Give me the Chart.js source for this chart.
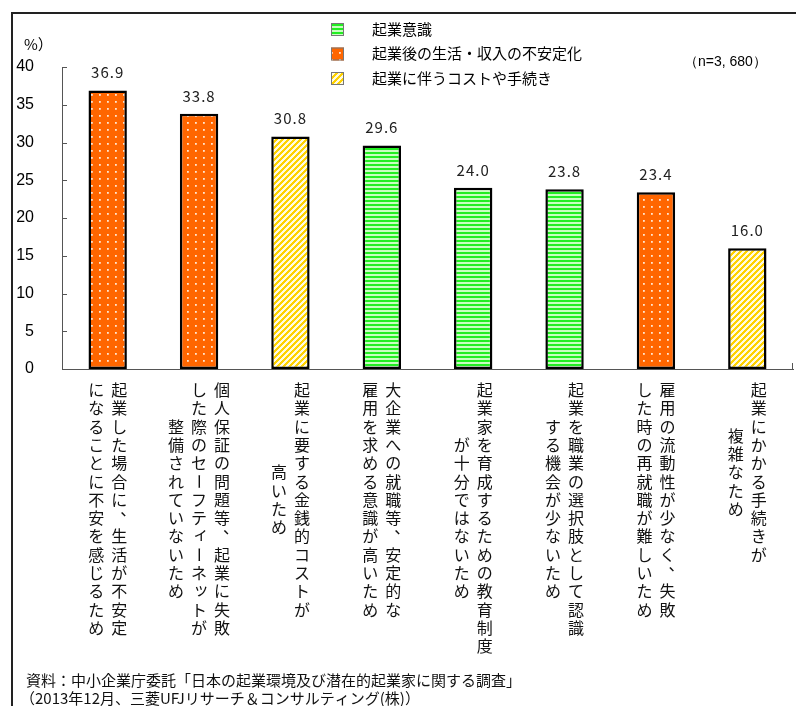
<!DOCTYPE html>
<html lang="ja">
<head>
<meta charset="utf-8">
<script src="https://cdn.jsdelivr.net/npm/chart.js@4.4.1/dist/chart.umd.min.js"></script>
<style>
html,body{margin:0;padding:0;background:#fff;}
#caixa{position:relative;width:796px;height:706px;}
</style>
</head>
<body>
<div id="caixa"><canvas id="grafico"></canvas></div>
<script>
// dados
const categorias = [
  ["起業した場合に、生活が不安定", "になることに不安を感じるため"],
  ["個人保証の問題等、起業に失敗", "した際のセーフティーネットが", "整備されていないため"],
  ["起業に要する金銭的コストが", "高いため"],
  ["大企業への就職等、安定的な", "雇用を求める意識が高いため"],
  ["起業家を育成するための教育制度", "が十分ではないため"],
  ["起業を職業の選択肢として認識", "する機会が少ないため"],
  ["雇用の流動性が少なく、失敗", "した時の再就職が難しいため"],
  ["起業にかかる手続きが", "複雑なため"]
];
const valores = [36.9, 33.8, 30.8, 29.6, 24.0, 23.8, 23.4, 16.0];
const tipos = [1, 1, 2, 0, 0, 0, 1, 2];
const series = ["起業意識", "起業後の生活・収入の不安定化", "起業に伴うコストや手続き"];
const ticksY = [0, 5, 10, 15, 20, 25, 30, 35, 40];

// padroes de preenchimento
function criarPadrao(tipo) {
  const c = document.createElement("canvas");
  const g = c.getContext("2d");
  if (tipo === 0) {
    c.width = 4; c.height = 4;
    g.fillStyle = "#c8ffc0"; g.fillRect(0, 0, 4, 4);
    g.fillStyle = "#22ee22"; g.fillRect(0, 0, 4, 2);
  } else if (tipo === 1) {
    c.width = 8; c.height = 7;
    g.fillStyle = "#ff6600"; g.fillRect(0, 0, 8, 7);
    g.fillStyle = "#ffe6d0"; g.fillRect(3, 3, 1.8, 1.8);
  } else {
    c.width = 6; c.height = 6;
    for (let x = 0; x < 6; x++) {
      for (let y = 0; y < 6; y++) {
        g.fillStyle = ((x + y) % 6) < 3 ? "#ffd200" : "#fffbe0";
        g.fillRect(x, y, 1, 1);
      }
    }
  }
  return g.createPattern(c, "repeat");
}

const padroes = [0, 1, 2].map(criarPadrao);

const fonteJP = "'Noto Sans CJK JP', 'Noto Sans', sans-serif";

// textos extras, legenda e rotulos verticais
const extras = {
  id: "extras",
  afterDraw(chart) {
    const ctx = chart.ctx;
    const area = chart.chartArea;
    const x = chart.scales.x;
    const y = chart.scales.y;

    ctx.save();

    // moldura
    ctx.strokeStyle = "#222";
    ctx.lineWidth = 2;
    ctx.beginPath();
    ctx.moveTo(12, 706);
    ctx.lineTo(12, 13);
    ctx.lineTo(796, 13);
    ctx.stroke();

    // marcas internas do eixo
    ctx.strokeStyle = "#555";
    ctx.lineWidth = 1;
    ticksY.forEach(t => {
      const py = Math.round(y.getPixelForValue(t)) + 0.5;
      ctx.beginPath();
      ctx.moveTo(area.left, py);
      ctx.lineTo(area.left + 5, py);
      ctx.stroke();
    });
    ctx.beginPath();
    ctx.moveTo(area.right - 0.5, area.bottom);
    ctx.lineTo(area.right - 0.5, area.bottom - 6);
    ctx.stroke();

    // unidade
    ctx.fillStyle = "#000";
    ctx.font = "15px " + fonteJP;
    ctx.textAlign = "left";
    ctx.textBaseline = "middle";
    ctx.fillText("%）", 24, 44);

    // n
    ctx.font = "14px 'Liberation Sans', sans-serif";
    ctx.fillText("（n=3, 680）", 684, 62);

    // legenda
    series.forEach((s, k) => {
      const ly = 29 + k * 24.5;
      ctx.fillStyle = padroes[k];
      ctx.fillRect(331, ly - 6, 13, 13);
      ctx.strokeStyle = "#777";
      ctx.strokeRect(331.5, ly - 5.5, 12, 12);
      ctx.fillStyle = "#000";
      ctx.font = "15px " + fonteJP;
      ctx.fillText(s, 372, ly);
    });

    // valores acima das barras
    ctx.font = "15px " + fonteJP;
    ctx.letterSpacing = "1px";
    ctx.textAlign = "center";
    ctx.textBaseline = "middle";
    ctx.fillStyle = "#222";
    chart.data.datasets.forEach((ds, k) => {
      chart.getDatasetMeta(k).data.forEach((el, i) => {
        if (ds.data[i] === null) return;
        ctx.fillText(ds.data[i].toFixed(1), el.x, el.y - 18);
      });
    });
    ctx.letterSpacing = "0px";

    // rotulos verticais
    const passo = 18.3;
    const colunas = 23;
    ctx.font = "16px " + fonteJP;
    ctx.fillStyle = "#111";
    categorias.forEach((linhas, i) => {
      const cx = x.getPixelForValue(i);
      const maior = Math.max(...linhas.map(l => l.length));
      linhas.forEach((linha, j) => {
        const px = cx + ((linhas.length - 1) / 2 - j) * colunas;
        const y0 = 390 + (maior - linha.length) / 2 * passo;
        [...linha].forEach((ch, n) => {
          const py = y0 + n * passo;
          if (ch === "ー") {
            ctx.save();
            ctx.translate(px, py);
            ctx.rotate(Math.PI / 2);
            ctx.fillText(ch, 0, 0);
            ctx.restore();
          } else if (ch === "、") {
            ctx.fillText(ch, px + 9, py - 9);
          } else if (ch === "ィ" || ch === "ッ") {
            ctx.fillText(ch, px + 2, py - 2);
          } else {
            ctx.fillText(ch, px, py);
          }
        });
      });
    });

    // fonte
    ctx.textAlign = "left";
    ctx.font = "15px " + fonteJP;
    ctx.fillStyle = "#111";
    ctx.fillText("資料：中小企業庁委託「日本の起業環境及び潜在的起業家に関する調査」", 26, 680);
    ctx.fillText("（2013年12月、三菱UFJリサーチ＆コンサルティング(株)）", 20, 698);

    ctx.restore();
  }
};

const grafico = document.getElementById("grafico");

new Chart(grafico, {
  type: "bar",
  data: {
    labels: categorias,
    datasets: series.map((s, k) => ({
      label: s,
      data: valores.map((v, i) => tipos[i] === k ? v : null),
      backgroundColor: padroes[k],
      borderColor: "#000",
      borderWidth: 2.5,
      borderSkipped: false,
      grouped: false,
      categoryPercentage: 1,
      barPercentage: 0.42
    }))
  },
  options: {
    responsive: true,
    maintainAspectRatio: false,
    animation: false,
    layout: {
      padding: { top: 67, bottom: 337, left: 0, right: 3 }
    },
    plugins: {
      legend: { display: false },
      tooltip: { enabled: false }
    },
    scales: {
      x: {
        grid: { display: false },
        ticks: { display: false },
        border: { color: "#555" },
        afterFit: s => { s.height = 0; }
      },
      y: {
        min: 0,
        max: 40,
        ticks: {
          stepSize: 5,
          padding: 20,
          color: "#000",
          font: { family: "'Liberation Sans', sans-serif", size: 16 }
        },
        grid: { display: false },
        border: { color: "#555" },
        afterFit: s => { s.width = 62; }
      }
    }
  },
  plugins: [extras]
});
</script>
</body>
</html>
